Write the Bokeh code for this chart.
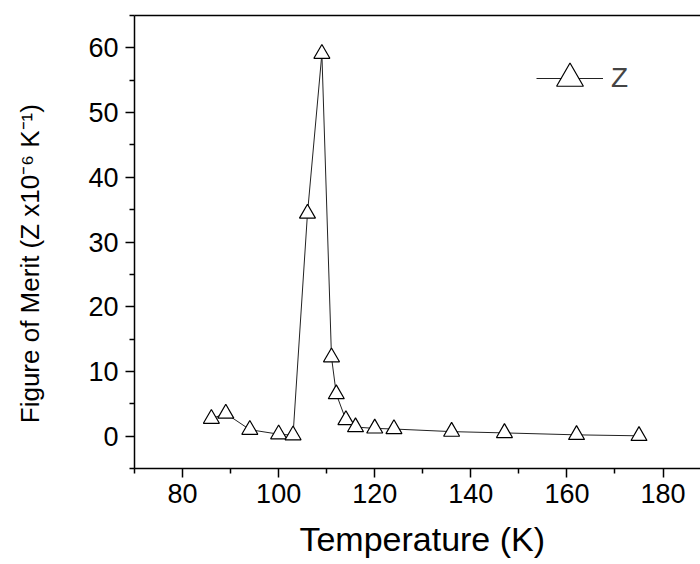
from bokeh.plotting import figure
from bokeh.models import (LinearAxis, FixedTicker, Legend, LegendItem, Range1d)
from bokeh.embed import file_html
from bokeh.resources import INLINE

# ---- data ----
temperature = [86, 89, 94, 100, 103, 106, 109, 111, 112, 114, 116, 120, 124, 136, 147, 162, 175]
z_values = [2.7, 3.5, 1.0, 0.3, 0.15, 34.4, 59.1, 12.2, 6.5, 2.5, 1.4, 1.2, 1.1, 0.7, 0.5, 0.2, 0.05]

x_ticks = [80, 100, 120, 140, 160, 180]
x_minor = [70, 90, 110, 130, 150, 170]
y_ticks = [0, 10, 20, 30, 40, 50, 60]
y_minor = [-5, 5, 15, 25, 35, 45, 55, 65]

x_title = "Temperature (K)"
y_title = "Figure of Merit (Z x10\u207b\u2076 K\u207b\u00b9)"
series_name = "Z"

FONT = "Liberation Sans"

p = figure(frame_width=566, frame_height=453, output_backend="svg", toolbar_location=None,
           x_range=Range1d(70, 187.8), y_range=Range1d(-5, 65),
           min_border_left=134, min_border_right=0, min_border_top=15, min_border_bottom=96,
           x_axis_location=None, y_axis_location=None)
p.xgrid.visible = False
p.ygrid.visible = False
p.outline_line_color = None
p.background_fill_color = "white"
p.border_fill_color = "white"

def style_axis(ax):
    ax.axis_line_color = "black"
    ax.axis_line_width = 1.5
    ax.major_tick_line_color = "black"
    ax.major_tick_line_width = 1.5
    ax.minor_tick_line_color = "black"
    ax.minor_tick_line_width = 1.5
    ax.major_tick_in = 0
    ax.major_tick_out = 9
    ax.minor_tick_in = 0
    ax.minor_tick_out = 5
    ax.major_label_text_font = FONT
    ax.major_label_text_font_size = "27px"
    ax.major_label_text_color = "black"
    ax.axis_label_text_font = FONT
    ax.axis_label_text_font_style = "normal"
    ax.axis_label_text_color = "black"

xax = LinearAxis(ticker=FixedTicker(ticks=x_ticks, minor_ticks=x_minor))
style_axis(xax)
xax.major_label_standoff = 6
xax.axis_label = "\u00a0" + x_title
xax.axis_label_text_font_size = "34px"
xax.axis_label_standoff = 14
p.add_layout(xax, "below")

yax = LinearAxis(ticker=FixedTicker(ticks=y_ticks, minor_ticks=y_minor))
style_axis(yax)
yax.major_label_standoff = 7
yax.axis_label = y_title + "\u00a0" * 6
yax.axis_label_text_font_size = "26px"
yax.axis_label_standoff = 40
p.add_layout(yax, "left")

top = LinearAxis(ticker=FixedTicker(ticks=[]))
top.axis_line_color = "black"
top.axis_line_width = 1.5
top.major_tick_out = 0
top.minor_tick_out = 0
top.major_label_standoff = 0
top.major_label_text_font_size = "0px"
p.add_layout(top, "above")

line_r = p.line(temperature, z_values, line_color="#222222", line_width=1)
scat_r = p.scatter(temperature, z_values, marker="triangle", size=16,
                   fill_color="white", line_color="black", line_width=1.2)

legend = Legend(items=[LegendItem(label=series_name, renderers=[line_r, scat_r])],
                location=(402, 355), glyph_width=67, glyph_height=70,
                label_text_font=FONT, label_text_font_size="28px", label_standoff=8,
                padding=0, margin=0, spacing=0, border_line_color=None,
                background_fill_alpha=0)
p.add_layout(legend)

open("out.html", "w").write(file_html(p, INLINE))
